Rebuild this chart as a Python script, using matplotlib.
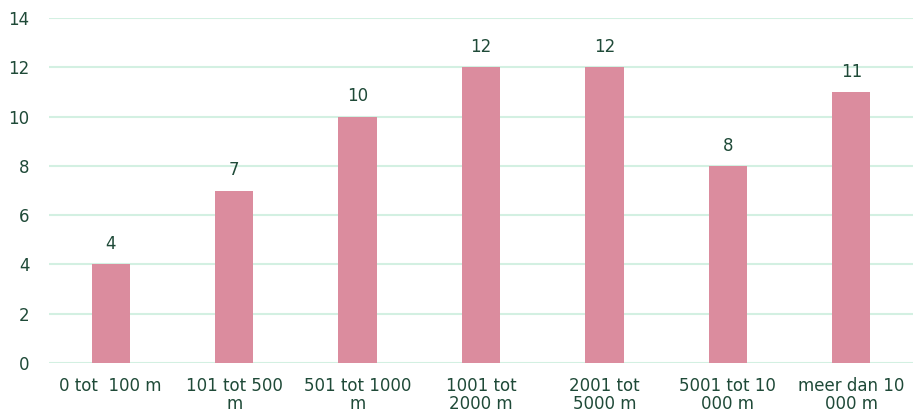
import numpy as np
import matplotlib
matplotlib.use("Agg")
import matplotlib.pyplot as plt

categories = ["0 tot  100 m", "101 tot 500\nm", "501 tot 1000\nm", "1001 tot\n2000 m",
              "2001 tot\n5000 m", "5001 tot 10\n000 m", "meer dan 10\n000 m"]
values = [4, 7, 10, 12, 12, 8, 11]

bar_color = "#DB8C9E"
grid_color = "#D3F0E2"
text_color = "#1F4A38"

plt.rcParams['font.family'] = ['DejaVu Sans']

fig = plt.figure(figsize=(9.13, 4.2), dpi=100)
ax = fig.add_axes([49 / 913, 1 - 363 / 420, 1 - 49 / 913, (363 - 18) / 420])

x = np.arange(len(categories))
bars = ax.bar(x, values, width=0.31, color=bar_color, zorder=2)

for xi, v in zip(x, values):
    ax.annotate(str(v), xy=(xi, v), xytext=(0, 8), textcoords="offset points",
                ha="center", va="bottom", fontsize=12, color=text_color)

ax.set_xlim(-0.5, len(categories) - 0.5)
ax.set_ylim(0, 14)
ax.set_yticks(range(0, 15, 2))
ax.set_xticks(x)
ax.set_xticklabels(categories, fontsize=12, color=text_color, linespacing=1.0)
ax.tick_params(axis="y", labelsize=12, labelcolor=text_color, length=0, pad=14)
ax.tick_params(axis="x", length=0, pad=10)

ax.grid(axis="y", color=grid_color, linewidth=1.5, zorder=0)
ax.set_axisbelow(True)
for s in ax.spines.values():
    s.set_visible(False)

fig.savefig("out.png", dpi=100)
